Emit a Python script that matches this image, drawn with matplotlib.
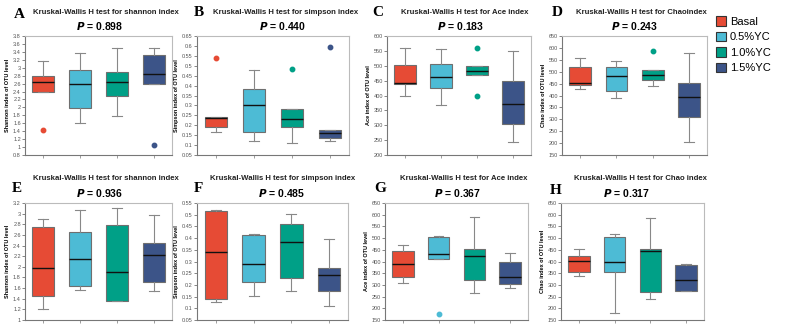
import matplotlib.pyplot as plt
from matplotlib.patches import Patch
import numpy as np

plt.rcParams['font.family'] = ['Liberation Sans', 'DejaVu Sans']

groups = ["Basal", "0.5%YC", "1.0%YC", "1.5%YC"]
colors = ['#E64B35', '#4DBBD5', '#00A087', '#3C5488']

# each group: whisker low, q1, median, q3, whisker high
shannon_top = [[2.40, 2.40, 2.63, 2.78, 3.18], [1.60, 1.98, 2.60, 2.94, 3.38],
               [1.78, 2.30, 2.65, 2.90, 3.50], [2.58, 2.58, 2.83, 3.33, 3.50]]
shannon_top_out = [[1.43], [], [], [1.05]]
simpson_top = [[0.165, 0.19, 0.235, 0.24, 0.24], [0.12, 0.165, 0.30, 0.385, 0.48],
               [0.11, 0.19, 0.23, 0.28, 0.28], [0.12, 0.135, 0.16, 0.178, 0.178]]
simpson_top_out = [[0.54], [], [0.485], [0.595]]
ace_top = [[399, 437, 442, 501, 558], [368, 425, 463, 506, 557],
           [468, 468, 482, 499, 499], [245, 305, 371, 450, 549]]
ace_top_out = [[], [], [397, 561], []]
chao_top = [[427, 444, 451, 519, 557], [390, 418, 481, 520, 543],
            [441, 464, 486, 506, 506], [204, 311, 392, 451, 577]]
chao_top_out = [[], [], [589], []]

shannon_bot = [[1.21, 1.45, 1.975, 2.74, 2.89], [1.56, 1.64, 2.14, 2.66, 3.07],
               [1.35, 1.35, 1.90, 2.78, 3.11], [1.55, 1.71, 2.22, 2.45, 2.97]]
shannon_bot_out = [[], [], [], []]
simpson_bot = [[0.128, 0.14, 0.341, 0.516, 0.519], [0.152, 0.213, 0.291, 0.412, 0.418],
               [0.174, 0.23, 0.384, 0.462, 0.505], [0.111, 0.174, 0.242, 0.273, 0.398]]
simpson_bot_out = [[], [], [], []]
ace_bot = [[306, 335, 391, 444, 471], [410, 410, 430, 505, 509],
           [264, 320, 424, 455, 590], [285, 302, 335, 397, 437]]
ace_bot_out = [[], [176], [], []]
chao_bot = [[339, 353, 401, 423, 453], [181, 356, 399, 504, 519],
            [238, 271, 444, 455, 587], [274, 275, 320, 387, 389]]
chao_bot_out = [[], [], [], []]

p_top = [0.898, 0.440, 0.183, 0.243]
p_bot = [0.936, 0.485, 0.367, 0.317]

W, H = 789, 333
fig = plt.figure(figsize=(W / 100, H / 100), dpi=100)


def px_axes(x0, x1, y0, y1):
    return fig.add_axes([x0 / W, 1 - y1 / H, (x1 - x0) / W, (y1 - y0) / H])


def draw_panel(rect, stats, outs, ylim, step, ylabel, title, p, letter, letter_xy,
               title_y, p_dx=1, t_dx=7):
    ax = px_axes(*rect)
    bstats = []
    for s, o in zip(stats, outs):
        bstats.append(dict(whislo=s[0], q1=s[1], med=s[2], q3=s[3], whishi=s[4], fliers=o))
    bp = ax.bxp(bstats, positions=[1, 2, 3, 4], widths=0.6, patch_artist=True,
                showfliers=True,
                boxprops=dict(edgecolor='#6f6f6f', linewidth=0.8),
                medianprops=dict(color='#111111', linewidth=1.0),
                whiskerprops=dict(color='#888888', linewidth=0.8),
                capprops=dict(color='#888888', linewidth=0.8),
                capwidths=0.27)
    for patch, c in zip(bp['boxes'], colors):
        patch.set_facecolor(c)
    for fl, c in zip(bp['fliers'], colors):
        fl.set(marker='o', markerfacecolor=c, markeredgecolor=c, markersize=3.2)

    ax.set_xlim(0.5, 4.5)
    ax.set_ylim(*ylim)
    ax.set_yticks(np.arange(ylim[0], ylim[1] + step / 2, step))
    ax.yaxis.set_major_formatter(plt.FormatStrFormatter('%g'))
    ax.set_xticks([1, 2, 3, 4])
    ax.set_xticklabels([])
    ax.tick_params(axis='y', labelsize=4, colors='#555555', length=2, width=0.5, pad=1)
    ax.tick_params(axis='x', length=2.5, width=0.5, colors='#777777')
    for side in ['top', 'right']:
        ax.spines[side].set_color('#bbbbbb')
        ax.spines[side].set_linewidth(0.8)
    for side in ['left', 'bottom']:
        ax.spines[side].set_color('#777777')
        ax.spines[side].set_linewidth(0.8)
    ax.set_ylabel(ylabel, fontsize=4, fontweight='bold', labelpad=2)

    cx = (rect[0] + rect[1]) / 2
    fig.text((cx + t_dx) / W, 1 - title_y / H, title, fontsize=5.6, fontweight='bold',
             ha='center', va='center', color='#222222')
    fig.text((cx + p_dx) / W, 1 - (title_y + 14) / H, f"$\\bfit{{P}}$ = {p:.3f}",
             fontsize=7.5, fontweight='bold', ha='center', va='center')
    fig.text(letter_xy[0] / W, 1 - letter_xy[1] / H, letter, fontsize=11,
             fontweight='bold', family='Liberation Serif', ha='center', va='center')
    return ax


t_sh = "Kruskal-Wallis H test for shannon index"
t_si = "Kruskal-Wallis H test for simpson index"

draw_panel((25, 172, 36, 155), shannon_top, shannon_top_out, (0.8, 3.8), 0.2,
           "Shannon index of OTU level", t_sh, p_top[0], "A", (19, 15), 12, t_dx=7.5)
draw_panel((197, 349, 36, 155), simpson_top, simpson_top_out, (0.05, 0.65), 0.05,
           "Simpson index of OTU level", t_si, p_top[1], "B", (199, 13), 12,
           p_dx=9, t_dx=13)
draw_panel((387, 531, 36, 155), ace_top, ace_top_out, (200, 600), 50,
           "Ace index of OTU level", "Kruskal-Wallis H test for Ace index", p_top[2],
           "C", (378, 13), 12, t_dx=6)
draw_panel((562, 707, 36, 155), chao_top, chao_top_out, (150, 650), 50,
           "Chao index of OTU level", "Kruskal-Wallis H test for Chaoindex", p_top[3],
           "D", (557, 13), 12, p_dx=0, t_dx=6.5)

draw_panel((25, 172, 203, 320), shannon_bot, shannon_bot_out, (1.0, 3.2), 0.2,
           "Shannon index of OTU level", t_sh, p_bot[0], "E", (17, 188), 179, t_dx=7.5)
draw_panel((197, 348, 203, 320), simpson_bot, simpson_bot_out, (0.05, 0.55), 0.05,
           "Simpson index of OTU level", t_si, p_bot[1], "F", (198, 188), 179,
           p_dx=9, t_dx=10.5)
draw_panel((385, 528, 203, 320), ace_bot, ace_bot_out, (150, 650), 50,
           "Ace index of OTU level", "Kruskal-Wallis H test for Ace index", p_bot[2],
           "G", (380, 188), 179, t_dx=7.5)
draw_panel((561, 704, 203, 320), chao_bot, chao_bot_out, (150, 650), 50,
           "Chao index of OTU level", "Kruskal-Wallis H test for Chao index", p_bot[3],
           "H", (556, 190), 179, p_dx=-6, t_dx=7.5)

handles = [Patch(facecolor=c, edgecolor='#333333', linewidth=0.8) for c in colors]
fig.legend(handles, groups, loc='upper left', bbox_to_anchor=(712 / W, 1 - 12 / H),
           frameon=False, fontsize=8, handlelength=0.9, handleheight=0.9,
           handletextpad=0.3, labelspacing=0.45, borderaxespad=0)

fig.savefig('out.png', dpi=100)
